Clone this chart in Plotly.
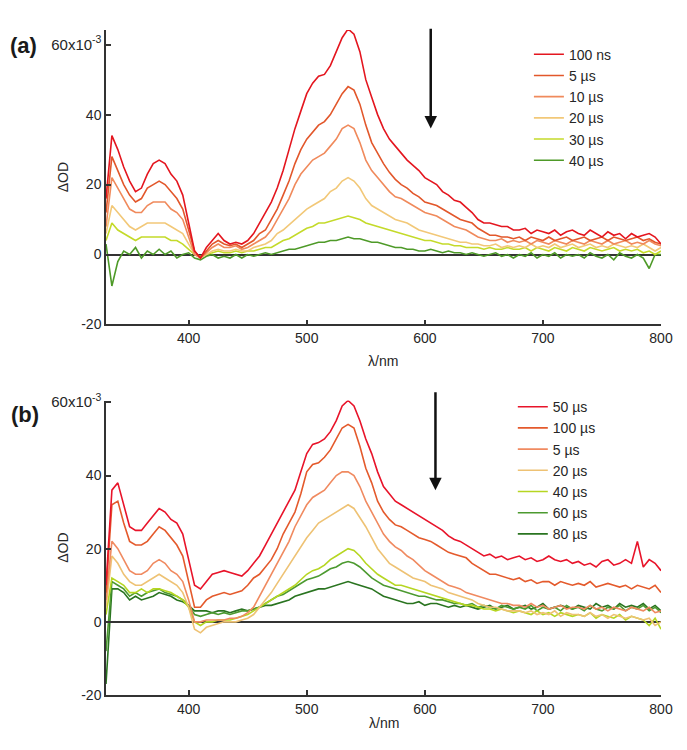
import numpy as np
import plotly.graph_objects as go

# wavelength grid (nm), 5 nm steps
wl = list(range(330, 801, 5))

# ---------------- panel (a)  (dOD x 1e-3) ----------------
a_labels = ["100 ns", "5 µs", "10 µs", "20 µs", "30 µs", "40 µs"]
a_100ns = [16, 34, 30, 25, 21, 18, 19, 23, 26, 27,
           26, 23, 21, 17, 9, 1, -1, 2, 4, 6,
           4, 3, 3.5, 3, 4, 6, 9, 12, 15, 19,
           24, 30, 36, 41, 46, 49, 51, 51.5, 54, 58,
           62, 64.5, 63, 58, 50, 45, 40, 36, 33, 31,
           29, 27, 25.5, 24, 22, 21, 20, 18, 17, 15.5,
           15, 13.5, 12, 10, 9, 9, 8.5, 8, 8, 7,
           7, 7.5, 6, 7, 6.5, 6, 7, 5.5, 6.5, 7,
           6, 5.5, 7, 6, 5, 6.5, 5.5, 6, 4.5, 6,
           5, 5.5, 6, 5, 3]
a_5us = [12, 28, 24, 20, 17, 15, 16, 19, 20, 21,
         20, 18, 16, 13, 7, 1, -1, 1, 3, 4,
         3, 2.5, 3, 2, 3, 4, 6, 7, 10, 13,
         17, 21, 26, 30, 33, 35, 37, 38, 40, 43,
         46, 48, 47, 43, 37, 32, 29, 26, 23.5, 21.5,
         20, 19, 17.5, 16.5, 15, 14.5, 14, 13, 12, 11,
         10, 9.5, 9, 7.5, 6.5, 5.5, 5.5, 5, 5, 4.5,
         5, 4, 5, 4.5, 4, 5, 4, 4.5, 5, 4,
         4.5, 5, 4, 4.5, 5, 4, 5, 4.5, 4, 4.5,
         5, 4, 4.5, 3.5, 3]
a_10us = [8, 22, 19, 16, 13, 12, 12, 14, 15, 15,
          15, 13, 12, 10, 5, 0, -1, 0.5, 2, 3,
          2, 2, 2.5, 1.5, 2, 3, 4, 5, 7, 10,
          13, 16, 20, 23, 25, 27, 28, 29, 31, 33,
          36, 37, 36, 32, 27, 24, 22, 20, 18, 16.5,
          16, 15, 14, 13, 12, 11.5, 11, 10, 9, 8,
          7.5, 7, 6, 5, 4.5, 4, 4, 4.5, 3.5, 4,
          3.5, 4, 3, 4, 3.5, 3, 4, 3.5, 3, 4,
          3.5, 3, 4, 3.5, 3, 4, 3, 3.5, 4, 3,
          3.5, 3, 4, 3, 2.5]
a_20us = [6, 14, 12, 10, 8, 7, 8, 9, 9, 9,
          9, 8, 7, 6, 3, 0, -1, 0, 1, 1.5,
          1, 1, 1.5, 1, 1, 2, 2.5, 3, 4, 6,
          7, 8.5, 10, 11.5, 13, 14, 15, 16, 18, 19,
          21, 22, 21, 19, 16, 14, 13, 12, 11, 10,
          9.5, 9, 8, 7, 6.5, 6, 5.5, 5, 4.5, 4,
          3.5, 3.5, 3, 3, 2.5, 2.5, 3, 2, 2.5, 2,
          2.5, 2, 3, 2, 2.5, 2, 3, 2, 2.5, 3,
          2, 2.5, 3, 2, 2.5, 2, 3, 2.5, 2, 2.5,
          2, 3, 2, 1, 2]
a_30us = [4, 9, 7, 6, 5, 4, 5, 5, 5, 5,
          5, 4, 4, 3, 1.5, 0, -0.5, 0, 0.5, 1,
          0.5, 0.5, 1, 0.5, 1, 1, 1.5, 2, 2, 3,
          4, 4.5, 5.5, 6.5, 7.5, 8, 9, 9, 9.5, 10,
          10.5, 11, 10.5, 10, 9, 8.5, 8, 7.5, 7, 6.5,
          6, 5.5, 5, 4.5, 4, 4, 3.5, 3, 3, 2.5,
          2.5, 2, 2, 2, 1.5, 2, 1.5, 1.5, 2, 1.5,
          1.5, 2, 1, 2, 1.5, 1, 2, 1.5, 1, 2,
          1.5, 1, 2, 1.5, 1, 1.5, 2, 1, 1.5, 1,
          1.5, 0.5, 1, 0, 1]
a_40us = [3, -9, -2, 1, 0, 2, -1, 1, 0, 1.5,
          0, 1, -1, 0, 0.5, -1, -1.5, -0.5, 0, -1,
          -0.5, -1, 0, -1, 0, -0.5, 0, 0.5, 0, 0.5,
          1, 1.5, 1.5, 2, 2.5, 3, 3.5, 3.5, 4, 4,
          4.5, 5, 4.5, 4.5, 4, 3.5, 3.5, 3, 2.5, 2,
          2, 1.5, 1.5, 1, 1, 1.5, 1, 0.5, 1, 0.5,
          0.5, 0, 0.5, 0, -0.5, 0, 0.5, -0.5, 0, -1,
          0, -0.5, 0.5, -1, 0, -0.5, 0.5, -1, 0, -0.5,
          0, -1, 0.5, -0.5, -1, 0, -1.5, 0.5, -0.5, -1,
          0, -1, -4, 0, 0]
a_colors = ["#e4161f", "#e2572b", "#f08a5c", "#f2c878", "#c4da2a", "#4e9a28"]

# ---------------- panel (b) ----------------
b_labels = ["50 µs", "100 µs", "5 µs", "20 µs", "40 µs", "60 µs", "80 µs"]
b_50us = [10, 36, 38, 32, 26, 25, 25, 27, 29, 31,
          30, 28, 27, 24, 17, 10, 9, 11, 13, 13.5,
          14, 13.5, 13, 12.5, 14, 16, 18, 21, 24, 27,
          30, 33, 36, 41, 46, 48.5, 49, 50, 52, 55,
          59, 60.5, 59, 55, 50, 46, 41, 37, 35, 33,
          32, 31, 30, 29, 28, 27, 26, 25, 23.5, 22.5,
          22, 21, 20, 19, 18, 18.5, 17.5, 18, 17, 17.5,
          18, 17, 17.5, 16.5, 17, 18, 17, 16.5, 17, 16,
          16.5, 15.5, 16, 15, 16.5, 17, 15.5, 16, 17, 16,
          22, 15, 17, 16, 14]
b_100us = [8, 32, 33, 27, 22, 21, 21, 22, 24, 26,
           25, 23, 21, 18, 11, 4, 4, 6, 7, 7.5,
           8, 7.5, 8, 8.5, 10, 12, 13, 15, 17, 20,
           24, 27, 30, 35, 41, 43, 43.5, 45, 47, 50,
           53, 54, 53, 48, 42, 38, 33, 30, 28, 26.5,
           26, 25, 24, 23, 22.5, 22, 21, 20, 19, 18.5,
           18, 17.5, 16, 15, 14, 13, 13, 12.5, 12, 11.5,
           12, 11, 11.5, 10.5, 11, 11, 10, 11, 10.5, 10,
           10.5, 10, 11, 9.5, 10, 10.5, 10, 9.5, 10, 9,
           10, 9.5, 9, 10, 8]
b_5us = [6, 22, 20, 17, 14, 13, 13, 14, 16, 17,
         16, 14, 13, 11, 6, 0, 0, 0.5, 0.5, 0.5,
         0.5, 1, 1, 1.5, 2.5, 4, 7, 10, 13, 16,
         19, 22, 26, 29, 32, 34, 35, 36, 38, 40,
         41, 41, 40, 37, 33, 30, 27, 24, 22, 20.5,
         19.5, 18, 17, 15.5, 14, 13, 12, 11, 10, 9.5,
         9, 8, 7.5, 7, 6.5, 6, 5.5, 5, 5, 4.5,
         4.5, 4, 5, 4, 4.5, 3.5, 4, 4.5, 3.5, 4,
         4, 3.5, 4.5, 3.5, 4, 3, 4, 3.5, 3, 4,
         3.5, 3, 4, 2.5, 3]
b_20us = [4, 18, 16, 13, 11, 10, 10, 11, 12, 13,
          12, 11, 10, 8, 4, -2, -3, -1.5, -1, -0.5,
          0, 0, 0, 0.5, 1, 2, 4, 6, 8, 10.5,
          13, 15.5, 18, 20.5, 23, 25, 27, 28, 29, 30,
          31, 32, 31, 28.5, 26, 23, 20, 18, 16, 15,
          14, 13, 12, 11.5, 11, 10, 9.5, 9, 8, 7.5,
          7, 6.5, 6, 5, 4.5, 4, 4, 3.5, 3, 3,
          3, 2.5, 3, 2, 2.5, 2, 3, 1.5, 2.5, 2,
          2, 1.5, 2.5, 1.5, 2, 1, 2, 1.5, 1, 1.5,
          1, 0.5, 1, -1, 0]
b_40us = [2, 12, 11, 10, 8, 8, 9, 8, 9, 9,
          8.5, 8, 7, 6, 4, 0, -1, 0, 0, 0.5,
          0.5, 0.5, 1, 1.5, 2, 3, 4, 5, 6, 7,
          8, 9, 10, 11.5, 13, 14, 14.5, 15.5, 17, 18,
          19, 20, 19.5, 18, 16, 14.5, 13, 12, 11, 10,
          10, 9.5, 9, 8.5, 8, 7.5, 7, 6.5, 6, 5.5,
          5, 4.5, 4.5, 4, 3.5, 3.5, 3, 3.5, 3, 2.5,
          3, 2.5, 2, 3, 2, 2.5, 1.5, 2.5, 2, 1.5,
          2, 1.5, 2.5, 1, 2, 1.5, 1, 2, 0.5, 1.5,
          1, 0.5, -1, 1, -2]
b_60us = [-8, 11, 10, 9, 7, 8, 7, 8, 8.5, 9,
          8, 7.5, 7, 6, 4.5, 2, 1.5, 2, 2.5, 2,
          2.5, 2, 2.5, 3, 3, 3.5, 4, 5, 6, 7,
          7.5, 8.5, 9.5, 10.5, 11.5, 12, 12.5, 13.5, 14.5, 15,
          16, 16.5, 16, 15, 13.5, 12, 11, 10, 9.5, 9,
          8.5, 8, 7.5, 7, 7, 6.5, 6, 6, 5.5, 5,
          5, 4.5, 5, 4, 4.5, 4, 3.5, 4.5, 4, 3.5,
          4, 3.5, 4.5, 3, 4, 3.5, 4, 3, 4.5, 3.5,
          4, 3, 4.5, 3.5, 3, 4, 3.5, 4.5, 3, 4,
          3.5, 4.5, 3, 4, 2.5]
b_80us = [-17, 9, 9, 8, 6, 7, 6, 6.5, 7, 8,
          7.5, 7, 6, 5.5, 4.5, 3, 3, 3, 2.5, 3,
          3, 2.5, 3, 3.5, 3, 3.5, 4, 4.5, 4.5, 5,
          5.5, 6, 7, 7.5, 8, 8.5, 9, 9, 9.5, 10,
          10.5, 11, 10.5, 10, 9.5, 9, 8, 7, 6.5, 6,
          5.5, 5, 5, 5.5, 4.5, 5, 5, 4.5, 4, 4.5,
          4, 4.5, 4, 3.5, 4, 4.5, 3.5, 4, 4.5, 3.5,
          4, 4.5, 3.5, 4, 5, 3.5, 4, 4.5, 4, 3.5,
          4.5, 4, 3.5, 5, 4, 4.5, 3.5, 5, 4, 4.5,
          4, 5, 3.5, 4.5, 3]
b_colors = ["#e8142a", "#e45a2c", "#f08a60", "#eec274", "#b6d622", "#4c9a30", "#2a7420"]

a_series = [a_100ns, a_5us, a_10us, a_20us, a_30us, a_40us]
b_series = [b_50us, b_100us, b_5us, b_20us, b_40us, b_60us, b_80us]

y_ticks = [-20, 0, 20, 40, 60]
y_ticktext = ["-20", "0", "20", "40", "<span style='font-size:15px'>60x10<sup>-3</sup></span>"]
x_ticks = [400, 500, 600, 700, 800]

FONT = "Liberation Sans, Arial, sans-serif"
TXT = "#262626"

fig = go.Figure()
# draw in reverse so that the early (red) curves sit on top
for lab, ys, col in reversed(list(zip(a_labels, a_series, a_colors))):
    fig.add_trace(go.Scatter(x=wl, y=ys, mode="lines", name=lab,
                             line=dict(color=col, width=1.6),
                             xaxis="x", yaxis="y", legend="legend"))
for lab, ys, col in reversed(list(zip(b_labels, b_series, b_colors))):
    fig.add_trace(go.Scatter(x=wl, y=ys, mode="lines", name=lab,
                             line=dict(color=col, width=1.6),
                             xaxis="x2", yaxis="y2", legend="legend2"))

axis_common = dict(showline=True, linecolor="#333333", linewidth=1.5,
                   ticks="inside", ticklen=5, tickwidth=1.5, tickcolor="#333333",
                   showgrid=False, tickfont=dict(family=FONT, size=14, color=TXT))

# page body has an 8px margin, so the figure is 8px smaller than the window
W, H = 679, 742
fig.update_layout(
    width=W, height=H,
    margin=dict(l=98, r=26, t=14, b=55),
    paper_bgcolor="white", plot_bgcolor="white",
    showlegend=True,
    xaxis=dict(domain=[0, 1], anchor="y", range=[330, 800], tickvals=x_ticks, **axis_common),
    yaxis=dict(domain=[0.5572, 1], anchor="x", range=[-20, 64.2], tickvals=y_ticks,
               ticktext=y_ticktext, zeroline=True, zerolinecolor="#333333", zerolinewidth=1.5,
               **axis_common),
    xaxis2=dict(domain=[0, 1], anchor="y2", range=[330, 800], tickvals=x_ticks, **axis_common),
    yaxis2=dict(domain=[0, 0.4428], anchor="x2", range=[-20, 60.5], tickvals=y_ticks,
                ticktext=y_ticktext, zeroline=True, zerolinecolor="#333333", zerolinewidth=1.5,
                **axis_common),
    legend=dict(x=0.762, y=0.987, xanchor="left", yanchor="top", traceorder="reversed",
                font=dict(family=FONT, size=14, color=TXT), bgcolor="rgba(0,0,0,0)",
                itemwidth=30, tracegroupgap=0),
    legend2=dict(x=0.733, y=0.457, xanchor="left", yanchor="top", traceorder="reversed",
                 font=dict(family=FONT, size=14, color=TXT), bgcolor="rgba(0,0,0,0)",
                 itemwidth=30, tracegroupgap=0),
)

# helpers: screen pixel (in the 687x750 window) -> paper coordinates
def px_x(px):
    return (px - 106) / 555

def px_y(py):
    return (695 - py) / 673

annotations = [
    dict(text="<b>(a)</b>", x=px_x(8), y=px_y(38), xref="paper", yref="paper", showarrow=False,
         xanchor="left", yanchor="middle", font=dict(family=FONT, size=22, color="#1a1a1a")),
    dict(text="<b>(b)</b>", x=px_x(9), y=px_y(411), xref="paper", yref="paper", showarrow=False,
         xanchor="left", yanchor="middle", font=dict(family=FONT, size=22, color="#1a1a1a")),
    dict(text="ΔOD", x=px_x(63), y=px_y(171), xref="paper", yref="paper", showarrow=False,
         textangle=-90, xanchor="center", yanchor="middle", font=dict(family=FONT, size=14, color=TXT)),
    dict(text="ΔOD", x=px_x(63), y=px_y(546), xref="paper", yref="paper", showarrow=False,
         textangle=-90, xanchor="center", yanchor="middle", font=dict(family=FONT, size=14, color=TXT)),
    dict(text="λ/nm", x=px_x(383), y=px_y(357), xref="paper", yref="paper", showarrow=False,
         xanchor="center", yanchor="middle", font=dict(family=FONT, size=14, color=TXT)),
    dict(text="λ/nm", x=px_x(384), y=px_y(723), xref="paper", yref="paper", showarrow=False,
         xanchor="center", yanchor="middle", font=dict(family=FONT, size=14, color=TXT)),
    # decay arrows
    dict(x=605, y=36, ax=605, ay=65, xref="x", yref="y", axref="x", ayref="y", text="",
         showarrow=True, arrowhead=2, arrowsize=1, arrowwidth=2.5, arrowcolor="#111111"),
    dict(x=609, y=36, ax=609, ay=63.2, xref="x2", yref="y2", axref="x2", ayref="y2", text="",
         showarrow=True, arrowhead=2, arrowsize=1, arrowwidth=2.5, arrowcolor="#111111"),
]
fig.update_layout(annotations=annotations)

fig.write_html("out.html")
